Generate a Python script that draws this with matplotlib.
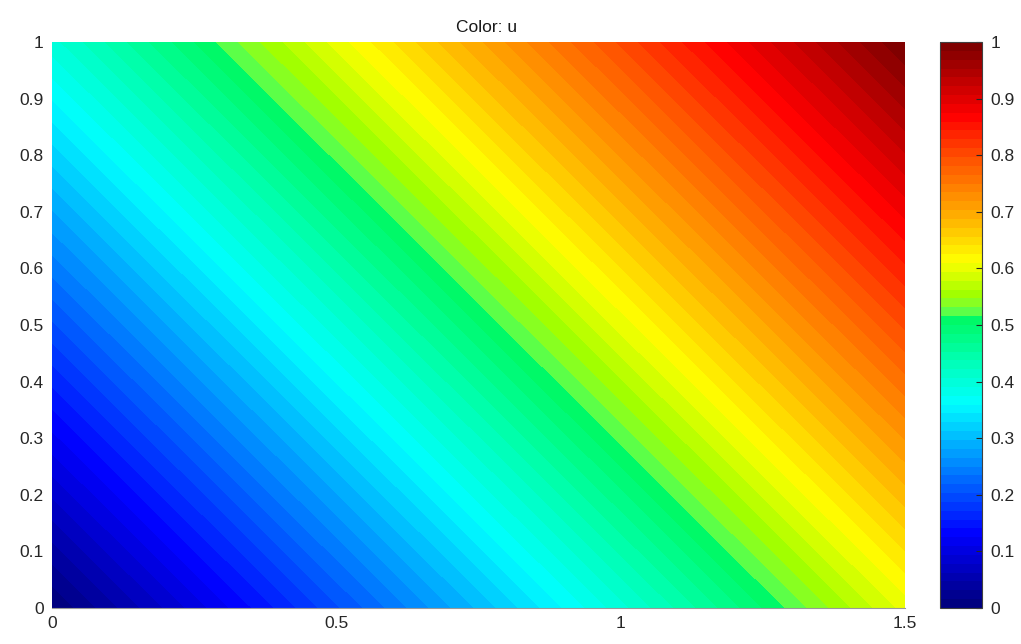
import numpy as np
import matplotlib
matplotlib.use('Agg')
import matplotlib.pyplot as plt
import matplotlib.tri as mtri
from matplotlib.colors import LinearSegmentedColormap

plt.rcParams.update({'font.family': ['Liberation Sans', 'DejaVu Sans'], 'font.size': 12})

# corner nodes of the domain and the value of u there
x_nodes = [0.0, 1.5, 0.0, 1.5]
y_nodes = [0.0, 0.0, 1.0, 1.0]
u_nodes = [0.0, 0.6, 0.4, 1.0]

x_ticks = [0, 0.5, 1, 1.5]
y_ticks = [0, 0.1, 0.2, 0.3, 0.4, 0.5, 0.6, 0.7, 0.8, 0.9, 1]
cb_ticks = [0, 0.1, 0.2, 0.3, 0.4, 0.5, 0.6, 0.7, 0.8, 0.9, 1]

# jet-like map as it shows in the picture (64 steps)
cmap_pos = [0.0, 0.125, 0.36, 0.44, 0.515, 0.52, 0.535, 0.55, 0.615, 0.70, 0.80, 0.875, 1.0]
cmap_col = ['#000080', '#0000ff', '#00ffff', '#00ffb0', '#00f860', '#50ff50', '#80ff30',
            '#99ff00', '#ffff00', '#ffaa00', '#ff5000', '#ff0000', '#800000']
cmap = LinearSegmentedColormap.from_list('jetpic', list(zip(cmap_pos, cmap_col)), N=64)

fig = plt.figure(figsize=(10.21, 6.44), dpi=100)
ax = fig.add_axes([52/1021, 36/644, 853/1021, 566/644])
cax = fig.add_axes([940/1021, 36/644, 42/1021, 566/644])

tri = mtri.Triangulation(x_nodes, y_nodes)
levels = np.linspace(0, 1, 65)
cs = ax.tricontourf(tri, u_nodes, levels=levels, cmap=cmap, vmin=0, vmax=1, antialiased=False)

ax.set_xlim(0, 1.5)
ax.set_ylim(0, 1)
ax.set_xticks(x_ticks)
ax.set_xticklabels(['0', '0.5', '1', '1.5'])
ax.set_yticks(y_ticks)
ax.set_yticklabels([f'{v:g}' for v in y_ticks])
ax.tick_params(length=0, colors='#262626', labelsize=12.5, pad=6)
for s in ax.spines.values():
    s.set_visible(False)
ax.spines['bottom'].set_visible(True)
ax.spines['bottom'].set_color('#999999')
ax.spines['bottom'].set_linewidth(0.8)
ax.text(0.51, 1.012, 'Color: u', transform=ax.transAxes, ha='center', va='bottom',
        fontsize=12.5, color='#1a1a1a')

sm = plt.cm.ScalarMappable(cmap=cmap, norm=plt.Normalize(0, 1))
cb = fig.colorbar(sm, cax=cax, ticks=cb_ticks)
cb.ax.set_yticklabels([f'{v:g}' for v in cb_ticks])
cb.ax.tick_params(direction='in', length=4, width=0.8, colors='#262626', labelsize=12.5, pad=6)
cb.outline.set_edgecolor('#404040')
cb.outline.set_linewidth(0.8)

plt.savefig('out.png', dpi=100)
